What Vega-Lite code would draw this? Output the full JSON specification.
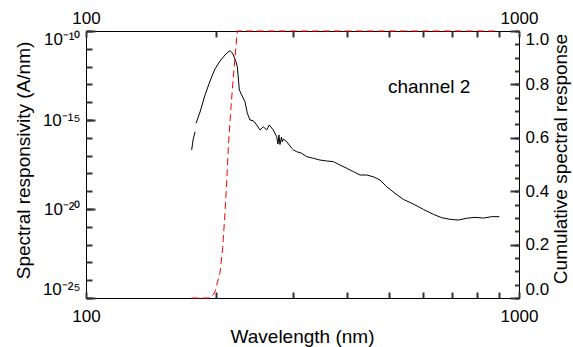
{
  "$schema": "https://vega.github.io/schema/vega-lite/v6.json",
  "width": 433,
  "height": 267,
  "autosize": {"type": "none"},
  "padding": {"left": 86, "top": 31, "right": 54, "bottom": 49},
  "background": "white",
  "config": {
    "view": {"stroke": "black", "strokeWidth": 1},
    "font": "Liberation Sans",
    "axis": {
      "grid": false,
      "domain": false,
      "labelColor": "black",
      "titleColor": "black",
      "labelFont": "Liberation Sans",
      "titleFont": "Liberation Sans",
      "labelFontSize": 17,
      "titleFontSize": 19,
      "titleFontWeight": "normal",
      "labelOverlap": false
    }
  },
  "datasets": {
    "resp": [
      {"wl": 175.4, "resp": 2.04e-17, "seg": 1},
      {"wl": 176.7, "resp": 7.59e-17, "seg": 1},
      {"wl": 178.6, "resp": 2.19e-16, "seg": 1},
      {"wl": 179.5, "resp": 6.5e-16, "seg": 2},
      {"wl": 183.4, "resp": 2.82e-15, "seg": 2},
      {"wl": 188.3, "resp": 2.51e-14, "seg": 2},
      {"wl": 193.4, "resp": 1.55e-13, "seg": 2},
      {"wl": 198.6, "resp": 7.41e-13, "seg": 2},
      {"wl": 203.9, "resp": 2.04e-12, "seg": 2},
      {"wl": 209.4, "resp": 4.47e-12, "seg": 2},
      {"wl": 212.8, "resp": 6.61e-12, "seg": 2},
      {"wl": 215.1, "resp": 7.76e-12, "seg": 2},
      {"wl": 217.0, "resp": 6.3e-12, "seg": 2},
      {"wl": 218.9, "resp": 4.47e-12, "seg": 2},
      {"wl": 222.0, "resp": 1.91e-12, "seg": 2},
      {"wl": 223.6, "resp": 9.77e-13, "seg": 2},
      {"wl": 226.0, "resp": 4.9e-14, "seg": 2},
      {"wl": 228.9, "resp": 2.51e-14, "seg": 2},
      {"wl": 232.9, "resp": 1.07e-14, "seg": 2},
      {"wl": 235.8, "resp": 2.4e-15, "seg": 2},
      {"wl": 239.2, "resp": 1.0e-15, "seg": 2},
      {"wl": 243.5, "resp": 9.12e-16, "seg": 2},
      {"wl": 247.9, "resp": 5.25e-16, "seg": 2},
      {"wl": 252.3, "resp": 2.75e-16, "seg": 2},
      {"wl": 256.7, "resp": 4.17e-16, "seg": 2},
      {"wl": 261.4, "resp": 2.75e-16, "seg": 2},
      {"wl": 265.0, "resp": 5.25e-16, "seg": 2},
      {"wl": 270.7, "resp": 2.75e-16, "seg": 2},
      {"wl": 275.6, "resp": 1.15e-16, "seg": 2},
      {"wl": 277.5, "resp": 4.5e-17, "seg": 2},
      {"wl": 279.0, "resp": 1.45e-16, "seg": 2},
      {"wl": 280.5, "resp": 4.2e-17, "seg": 2},
      {"wl": 282.8, "resp": 1.1e-16, "seg": 2},
      {"wl": 284.0, "resp": 6.0e-17, "seg": 2},
      {"wl": 285.5, "resp": 8.5e-17, "seg": 2},
      {"wl": 290.7, "resp": 6.03e-17, "seg": 2},
      {"wl": 295.9, "resp": 3.47e-17, "seg": 2},
      {"wl": 298.6, "resp": 2.57e-17, "seg": 2},
      {"wl": 301.5, "resp": 2.04e-17, "seg": 2},
      {"wl": 306.6, "resp": 1.66e-17, "seg": 2},
      {"wl": 314.9, "resp": 1.35e-17, "seg": 2},
      {"wl": 323.4, "resp": 8.71e-18, "seg": 2},
      {"wl": 334.9, "resp": 7.08e-18, "seg": 2},
      {"wl": 347.0, "resp": 5.62e-18, "seg": 2},
      {"wl": 359.5, "resp": 5.01e-18, "seg": 2},
      {"wl": 372.6, "resp": 4.57e-18, "seg": 2},
      {"wl": 386.0, "resp": 2.95e-18, "seg": 2},
      {"wl": 400.0, "resp": 1.95e-18, "seg": 2},
      {"wl": 414.4, "resp": 1.26e-18, "seg": 2},
      {"wl": 429.4, "resp": 8.13e-19, "seg": 2},
      {"wl": 444.9, "resp": 8.13e-19, "seg": 2},
      {"wl": 460.8, "resp": 6.46e-19, "seg": 2},
      {"wl": 477.5, "resp": 4.27e-19, "seg": 2},
      {"wl": 494.8, "resp": 1.78e-19, "seg": 2},
      {"wl": 517.2, "resp": 7.59e-20, "seg": 2},
      {"wl": 540.6, "resp": 3.47e-20, "seg": 2},
      {"wl": 570.1, "resp": 1.91e-20, "seg": 2},
      {"wl": 601.2, "resp": 9.55e-21, "seg": 2},
      {"wl": 634.1, "resp": 5.01e-21, "seg": 2},
      {"wl": 663.1, "resp": 3.24e-21, "seg": 2},
      {"wl": 692.9, "resp": 2.63e-21, "seg": 2},
      {"wl": 724.3, "resp": 2.4e-21, "seg": 2},
      {"wl": 757.4, "resp": 3.02e-21, "seg": 2},
      {"wl": 791.6, "resp": 3.39e-21, "seg": 2},
      {"wl": 827.4, "resp": 3.09e-21, "seg": 2},
      {"wl": 864.9, "resp": 3.72e-21, "seg": 2},
      {"wl": 900.6, "resp": 3.72e-21, "seg": 2}
    ],
    "cum": [
      {"wl": 175.4, "cum": 0},
      {"wl": 192.0, "cum": 0},
      {"wl": 195.1, "cum": 0.003},
      {"wl": 198.6, "cum": 0.024},
      {"wl": 203.9, "cum": 0.094},
      {"wl": 206.9, "cum": 0.19},
      {"wl": 209.4, "cum": 0.318},
      {"wl": 211.4, "cum": 0.442},
      {"wl": 213.2, "cum": 0.566},
      {"wl": 215.7, "cum": 0.693},
      {"wl": 218.6, "cum": 0.816},
      {"wl": 221.1, "cum": 0.91},
      {"wl": 223.6, "cum": 1.0},
      {"wl": 900.6, "cum": 1.0}
    ],
    "lab": [
      {"wl": 498, "cum": 0.768, "text": "channel 2"}
    ]
  },
  "resolve": {
    "scale": {"y": "independent"},
    "axis": {"x": "independent", "y": "independent"}
  },
  "layer": [
    {
      "data": {"name": "resp"},
      "transform": [{"filter": "datum.seg == 1"}],
      "mark": {"type": "line", "color": "black", "strokeWidth": 1},
      "encoding": {
        "x": {
          "field": "wl", "type": "quantitative",
          "scale": {"type": "log", "domain": [100, 1000], "nice": false},
          "axis": {
            "orient": "bottom",
            "values": [100, 200, 300, 400, 500, 600, 700, 800, 900, 1000],
            "labelExpr": "datum.value == 100 ? '100' : datum.value == 1000 ? '1000' : ''",
            "tickSize": -6,
            "tickColor": "#333333",
            "tickWidth": 2,
            "labelPadding": 16.5,
            "labelFlush": false,
            "title": "Wavelength (nm)",
            "titleX": 216,
            "titleY": 44,
            "titleAlign": "center",
            "titleBaseline": "alphabetic"
          }
        },
        "y": {
          "field": "resp", "type": "quantitative",
          "scale": {"type": "log", "domain": [1e-25, 1e-10], "nice": false},
          "axis": {
            "orient": "left",
            "values": [1e-25, 1e-24, 1e-23, 1e-22, 1e-21, 1e-20, 1e-19, 1e-18, 1e-17, 1e-16, 1e-15, 1e-14, 1e-13, 1e-12, 1e-11, 1e-10],
            "labelExpr": "datum.value == 1e-10 ? '10⁻¹⁰' : datum.value == 1e-15 ? '10⁻¹⁵' : datum.value == 1e-20 ? '10⁻²⁰' : datum.value == 1e-25 ? '10⁻²⁵' : ''",
            "tickSize": -6,
            "tickColor": "#333333",
            "tickWidth": 2,
            "labelPadding": 12,
            "labelFlush": true,
            "title": "Spectral responsivity (A/nm)",
            "titleAngle": 270,
            "titleX": -57,
            "titleY": 129,
            "titleAlign": "center",
            "titleBaseline": "alphabetic"
          }
        }
      }
    },
    {
      "data": {"name": "resp"},
      "transform": [{"filter": "datum.seg == 2"}],
      "mark": {"type": "line", "color": "black", "strokeWidth": 1},
      "encoding": {
        "x": {
          "field": "wl", "type": "quantitative",
          "scale": {"type": "log", "domain": [100, 1000], "nice": false},
          "axis": {
            "orient": "top",
            "values": [100, 200, 300, 400, 500, 600, 700, 800, 900, 1000],
            "labelExpr": "datum.value == 100 ? '100' : datum.value == 1000 ? '1000' : ''",
            "tickSize": -6,
            "tickColor": "#333333",
            "tickWidth": 2,
            "labelPadding": 10,
            "labelFlush": false,
            "title": null
          }
        },
        "y": {
          "field": "resp", "type": "quantitative",
          "scale": {"type": "log", "domain": [1e-25, 1e-10], "nice": false},
          "axis": {
            "orient": "left",
            "values": [1e-25, 1e-20, 1e-15, 1e-10],
            "tickSize": -9,
            "tickColor": "#333333",
            "tickWidth": 2,
            "labels": false,
            "title": null
          }
        }
      }
    },
    {
      "data": {"name": "cum"},
      "mark": {"type": "line", "color": "#ff0000", "strokeWidth": 1, "strokeDash": [7, 4]},
      "encoding": {
        "x": {
          "field": "wl", "type": "quantitative",
          "scale": {"type": "log", "domain": [100, 1000], "nice": false},
          "axis": null
        },
        "y": {
          "field": "cum", "type": "quantitative",
          "scale": {"type": "linear", "domain": [0, 1], "nice": false},
          "axis": {
            "orient": "right",
            "values": [0, 0.05, 0.1, 0.15, 0.2, 0.25, 0.3, 0.35, 0.4, 0.45, 0.5, 0.55, 0.6, 0.65, 0.7, 0.75, 0.8, 0.85, 0.9, 0.95, 1],
            "labelExpr": "abs(datum.value * 5 - round(datum.value * 5)) < 0.001 ? format(datum.value, '.1f') : ''",
            "tickSize": -4.5,
            "tickColor": "#333333",
            "tickWidth": 2,
            "labelPadding": 10.5,
            "labelFlush": true,
            "title": "Cumulative spectral response",
            "titleAngle": 270,
            "titleX": 47,
            "titleY": 127.5,
            "titleAlign": "center",
            "titleBaseline": "alphabetic"
          }
        }
      }
    },
    {
      "data": {"name": "lab"},
      "mark": {"type": "text", "align": "left", "baseline": "alphabetic", "fontSize": 19, "font": "Liberation Sans", "color": "black"},
      "encoding": {
        "x": {
          "field": "wl", "type": "quantitative",
          "scale": {"type": "log", "domain": [100, 1000], "nice": false},
          "axis": null
        },
        "y": {
          "field": "cum", "type": "quantitative",
          "scale": {"type": "linear", "domain": [0, 1], "nice": false},
          "axis": {
            "orient": "right",
            "values": [0, 0.2, 0.4, 0.6, 0.8, 1],
            "tickSize": -9,
            "tickColor": "#333333",
            "tickWidth": 2,
            "labels": false,
            "title": null
          }
        },
        "text": {"field": "text"}
      }
    }
  ]
}
